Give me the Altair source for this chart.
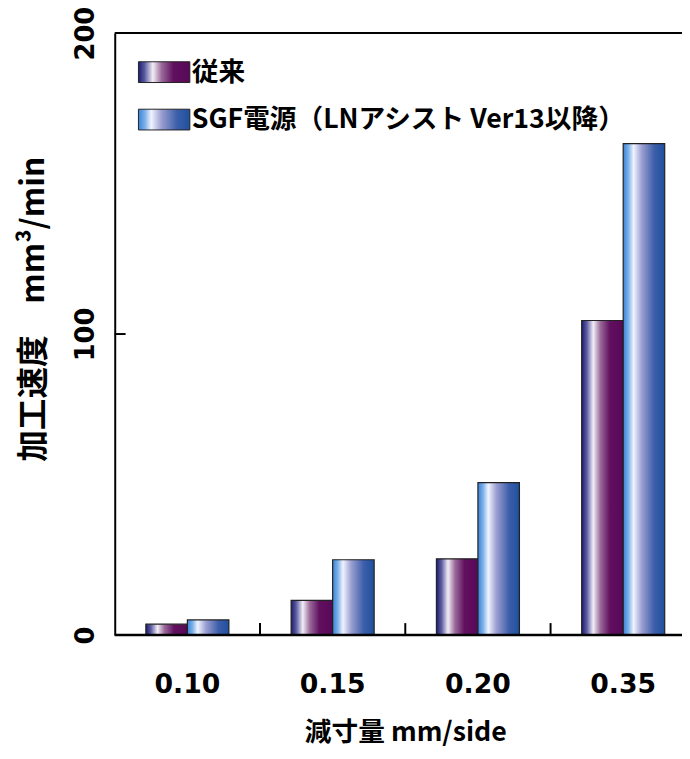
import altair as alt
import pandas as pd

categories = ["0.10", "0.15", "0.20", "0.35"]
series = ["従来", "SGF電源（LNアシスト Ver13以降）"]
conventional = [3.6, 11.5, 25.3, 104.5]
sgf = [5.0, 25.0, 50.6, 163.3]
y_ticks = [0, 100, 200]

rows = []
for c, a, b in zip(categories, conventional, sgf):
    rows.append({"category": c, "series": series[0], "value": a})
    rows.append({"category": c, "series": series[1], "value": b})
df = pd.DataFrame(rows)

grad_conv = {
    "gradient": "linear", "x1": 0, "x2": 1, "y1": 0, "y2": 0,
    "stops": [
        {"offset": 0.0, "color": "#1c1c70"},
        {"offset": 0.12, "color": "#5a5aa0"},
        {"offset": 0.28, "color": "#f2eef6"},
        {"offset": 0.45, "color": "#9a6a9a"},
        {"offset": 0.68, "color": "#60105e"},
        {"offset": 1.0, "color": "#580858"},
    ],
}
grad_sgf = {
    "gradient": "linear", "x1": 0, "x2": 1, "y1": 0, "y2": 0,
    "stops": [
        {"offset": 0.0, "color": "#3a84d8"},
        {"offset": 0.12, "color": "#78aee8"},
        {"offset": 0.25, "color": "#f0f4ff"},
        {"offset": 0.45, "color": "#9a9ed0"},
        {"offset": 0.75, "color": "#3c5eaa"},
        {"offset": 1.0, "color": "#1e509e"},
    ],
}

CJK = "Noto Sans CJK JP"
NUM = "DejaVu Sans"

x_scale = alt.Scale(domain=categories, range=[0, 588], paddingInner=0, paddingOuter=0)
y_scale = alt.Scale(domain=[0, 200], nice=False)

bars = alt.Chart(df).mark_bar(stroke="#222222", strokeWidth=1.2).encode(
    x=alt.X("category:N", scale=x_scale, sort=categories,
            axis=alt.Axis(labelAngle=0, labelPadding=37, labelBaseline="top",
                          ticks=False, tickSize=0, domain=False,
                          labelFont=NUM, labelFontSize=27, labelFontWeight="bold",
                          labelColor="black",
                          title="減寸量 mm/side", titleFont=CJK, titleFontSize=27,
                          titleFontWeight="bold", titleColor="black",
                          titleY=99, titleBaseline="middle")),
    xOffset=alt.XOffset("series:N", scale=alt.Scale(domain=series, paddingInner=0, paddingOuter=0.75)),
    y=alt.Y("value:Q", scale=y_scale,
            axis=alt.Axis(values=y_ticks, labelAngle=270, labelAlign="center",
                          labelBaseline="alphabetic", labelPadding=21,
                          ticks=False, tickSize=0, grid=False,
                          domainColor="black", domainWidth=2,
                          labelFont=NUM, labelFontSize=26, labelFontWeight="bold",
                          labelColor="black",
                          title="加工速度\u3000mm³/min", titleFont=CJK, titleFontSize=32,
                          titleFontWeight="bold", titleColor="black",
                          titleAngle=270, titleX=-82, titleY=279,
                          titleAlign="center", titleBaseline="middle")),
    fill=alt.condition(alt.datum.series == series[0], alt.value(grad_conv), alt.value(grad_sgf)),
)

one = alt.InlineData(values=[{"k": 1}])

top_rule = alt.Chart(one).mark_rule(color="black", strokeWidth=2).encode(y=alt.datum(200))
bottom_rule = alt.Chart(one).mark_rule(color="black", strokeWidth=2.5).encode(y=alt.datum(0))

ytick_df = pd.DataFrame({"value": [100]})
y_tick_marks = alt.Chart(ytick_df).mark_rule(color="black", strokeWidth=2).encode(
    y=alt.Y("value:Q", scale=y_scale), x=alt.value(0), x2=alt.value(11)
)

xtick_df = pd.DataFrame({"category": categories[1:]})
x_tick_marks = alt.Chart(xtick_df).mark_rule(color="black", strokeWidth=2).encode(
    x=alt.X("category:N", scale=x_scale, sort=categories, bandPosition=0),
    y=alt.value(597), y2=alt.value(609),
)

legend_layers = []
grads = [grad_conv, grad_sgf]
for i, (name, g) in enumerate(zip(series, grads)):
    ld = alt.InlineData(values=[{"label": name}])
    y0 = 29 + i * 48
    sw = alt.Chart(ld).mark_rect(fill=g, stroke="#222222", strokeWidth=1).encode(
        x=alt.value(24), x2=alt.value(76), y=alt.value(y0), y2=alt.value(y0 + 21)
    )
    tx = alt.Chart(ld).mark_text(align="left", baseline="middle", font=CJK,
                                 fontSize=27, fontWeight="bold", color="black").encode(
        x=alt.value(78), y=alt.value(y0 + 11), text="label:N"
    )
    legend_layers += [sw, tx]

chart = alt.layer(bars, top_rule, bottom_rule, y_tick_marks, x_tick_marks, *legend_layers).properties(
    width=574, height=609,
    autosize=alt.AutoSizeParams(type="none"),
    padding={"left": 108, "top": 21, "right": 0, "bottom": 113},
    background="white",
).configure_view(stroke="transparent")

chart.save("out.html", embed_options={"renderer": "svg", "actions": False})
